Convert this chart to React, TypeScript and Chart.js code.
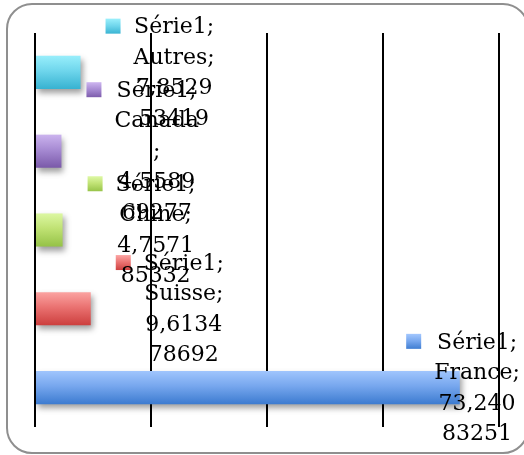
import React, { useEffect, useRef } from "react";
import { Chart, registerables } from "chart.js";

Chart.register(...registerables);

const categories = ["France", "Suisse", "Chine", "Canada", "Autres"];
const values = [73.24083251, 9.613478692, 4.757185332, 4.558969277, 7.852953419];
const seriesName = "Série1";
const topColors = ["#a0c5fd", "#fba3a1", "#dcf7a2", "#cbb3ee", "#98eefb"];
const midColors = ["#77a7ee", "#ea7271", "#c0e274", "#a78bd3", "#6fd6ec"];
const bottomColors = ["#3c7bd0", "#cc3e3d", "#95c247", "#7a59a9", "#37b2d1"];
const xMin = 0;
const xMax = 80;
const xStep = 20;

const BAR_PCT = 0.42;
const FONT = '22px "DejaVu Serif"';
const LINE_H = 30.5;
const WRAP_W = 86;

function makeGradient(ctx: CanvasRenderingContext2D, top: number, bottom: number, i: number) {
  const g = ctx.createLinearGradient(0, top, 0, bottom);
  g.addColorStop(0, topColors[i]);
  g.addColorStop(0.45, midColors[i]);
  g.addColorStop(1, bottomColors[i]);
  return g;
}

function wrapToken(ctx: CanvasRenderingContext2D, tok: string, maxW: number): string[] {
  const out: string[] = [];
  let cur = "";
  for (const ch of Array.from(tok)) {
    if (cur && ctx.measureText(cur + ch).width > maxW) {
      out.push(cur);
      cur = ch;
    } else cur += ch;
  }
  if (cur) out.push(cur);
  return out;
}

const borderPlugin = {
  id: "roundBorder",
  beforeDraw(chart: any) {
    const ctx = chart.ctx as CanvasRenderingContext2D;
    ctx.save();
    ctx.fillStyle = "#ffffff";
    ctx.fillRect(0, 0, chart.width, chart.height);
    ctx.beginPath();
    (ctx as any).roundRect(7, 4, 521, 449, 25);
    ctx.strokeStyle = "#8f8f8f";
    ctx.lineWidth = 2;
    ctx.stroke();
    ctx.restore();
  },
};

const shadowPlugin = {
  id: "barShadow",
  beforeDatasetsDraw(chart: any) {
    const ctx = chart.ctx as CanvasRenderingContext2D;
    ctx.save();
    ctx.shadowColor = "rgba(0,0,0,0.38)";
    ctx.shadowBlur = 6;
    ctx.shadowOffsetX = 2;
    ctx.shadowOffsetY = 4;
  },
  afterDatasetsDraw(chart: any) {
    chart.ctx.restore();
  },
};

const labelPlugin = {
  id: "barLabels",
  afterDraw(chart: any) {
    const ctx = chart.ctx as CanvasRenderingContext2D;
    const xs = chart.scales.x;
    const ys = chart.scales.y;
    ctx.save();
    ctx.font = FONT;
    ctx.textAlign = "center";
    ctx.textBaseline = "middle";
    values.forEach((v, i) => {
      const tokens = [seriesName + ";", categories[i] + ";", String(v).replace(".", ",")];
      const lines: string[] = [];
      tokens.forEach((t) => lines.push(...wrapToken(ctx, t, WRAP_W)));
      const colW = Math.max(...lines.map((l) => ctx.measureText(l).width));
      const sq = 15;
      const gap = 13;
      const blockW = sq + gap + colW;
      let left = xs.getPixelForValue(v) + 25;
      if (left + blockW > 520) left = 520 - blockW;
      const cy = ys.getPixelForValue(i);
      const top = cy - (lines.length * LINE_H) / 2;
      const colCx = left + sq + gap + colW / 2;
      const firstCy = top + LINE_H / 2;
      ctx.fillStyle = makeGradient(ctx, firstCy - sq / 2, firstCy + sq / 2, i);
      ctx.fillRect(left, firstCy - sq / 2 - 0.5, sq, sq);
      ctx.fillStyle = "#000000";
      lines.forEach((l, k) => {
        ctx.fillText(l, colCx, top + LINE_H * (k + 0.5) + 1);
      });
    });
    ctx.restore();
  },
};

export default function App() {
  const ref = useRef<HTMLCanvasElement | null>(null);
  useEffect(() => {
    if (!ref.current) return;
    const chart = new Chart(ref.current, {
      type: "bar",
      data: {
        labels: categories,
        datasets: [
          {
            label: seriesName,
            data: values,
            barPercentage: BAR_PCT,
            categoryPercentage: 1,
            borderWidth: 0,
            backgroundColor: (c: any) => {
              const chart = c.chart;
              const ys = chart.scales?.y;
              const i = c.dataIndex ?? 0;
              if (!ys || !chart.chartArea) return bottomColors[i];
              const center = ys.getPixelForValue(i);
              const band = Math.abs(ys.getPixelForValue(1) - ys.getPixelForValue(0));
              const h = (band * BAR_PCT) / 2;
              if (!isFinite(center) || !isFinite(h) || h <= 0) return bottomColors[i];
              return makeGradient(chart.ctx, center - h, center + h, i);
            },
          },
        ],
      },
      options: {
        indexAxis: "y",
        responsive: false,
        devicePixelRatio: 1,
        animation: false,
        layout: { padding: { left: 35, right: 25, top: 33, bottom: 28 } },
        plugins: { legend: { display: false }, tooltip: { enabled: false } },
        scales: {
          x: {
            min: xMin,
            max: xMax,
            ticks: { display: false, stepSize: xStep },
            grid: { color: "#000000", lineWidth: 2, drawTicks: false },
            border: { display: false },
          },
          y: {
            display: false,
            reverse: true,
          },
        },
      },
      plugins: [borderPlugin, shadowPlugin, labelPlugin],
    } as any);
    return () => chart.destroy();
  }, []);
  return (
    <div style={{ position: "absolute", left: 0, top: 0, width: 524, height: 455 }}>
      <canvas ref={ref} width={524} height={455} />
    </div>
  );
}
